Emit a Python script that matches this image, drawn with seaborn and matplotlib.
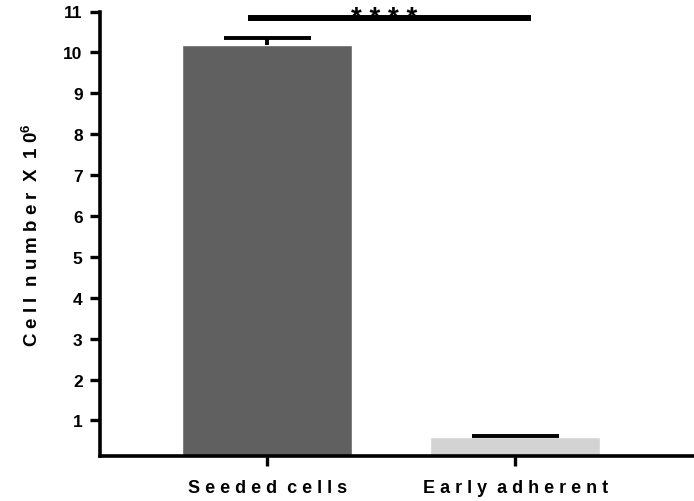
import matplotlib
matplotlib.use("Agg")
import matplotlib.pyplot as plt
import seaborn as sns
import pandas as pd

categories = ["Seeded cells", "Early adherent"]
tick_labels = ["S e e d e d  c e l l s", "E a r l y  a d h e r e n t"]
means = [10.17, 0.60]
errors = [0.17, 0.03]
colors = ["#606060", "#d3d3d3"]
yticks = [1, 2, 3, 4, 5, 6, 7, 8, 9, 10, 11]
sig_text = "* * * *"
sig_y = 10.85

sns.set_theme(style="ticks")
plt.rcParams["font.family"] = ["Liberation Sans", "DejaVu Sans"]
plt.rcParams["font.weight"] = "bold"
plt.rcParams["text.color"] = "black"
plt.rcParams["axes.labelcolor"] = "black"
plt.rcParams["mathtext.fontset"] = "custom"
plt.rcParams["mathtext.rm"] = "Liberation Sans:bold"
plt.rcParams["mathtext.it"] = "Liberation Sans:bold"
plt.rcParams["mathtext.bf"] = "Liberation Sans:bold"

df = pd.DataFrame({"group": categories, "value": means})

fig = plt.figure(figsize=(6.94, 5.02), dpi=100)
ax = fig.add_axes([100 / 694, (502 - 457) / 502, 1 - 100 / 694, (457 - 12.5) / 502])

sns.barplot(data=df, x="group", y="value", hue="group", palette=colors,
            order=categories, hue_order=categories, width=0.685,
            errorbar=None, legend=False, ax=ax, saturation=1)

xs = list(range(len(categories)))
tops = [m + e for m, e in zip(means, errors)]
ax.vlines(xs, means, tops, color="black", linewidth=2.8, zorder=3)
ax.hlines(tops, [x - 0.175 for x in xs], [x + 0.175 for x in xs],
          color="black", linewidth=2.8, zorder=3)

ax.set_xlim(-0.675, 1.72)
ax.set_ylim(0.13, 11.0)
ax.set_yticks(yticks)
ax.set_yticklabels([str(t) for t in yticks], fontsize=12.5, fontweight="bold",
                   color="black")
ax.set_xticks(xs)
ax.set_xticklabels(tick_labels, fontsize=13, fontweight="bold", color="black")
ax.set_xlabel("")
ax.set_ylabel("C e l l  n u m b e r  X  1 0$^{6}$", fontsize=13.5,
              fontweight="bold", color="black")
ax.yaxis.set_label_coords(-0.097, 0.5)

for s in ["top", "right"]:
    ax.spines[s].set_visible(False)
for s in ["left", "bottom"]:
    ax.spines[s].set_linewidth(2.6)
    ax.spines[s].set_color("black")
ax.tick_params(axis="both", which="major", length=7.5, width=2.4, color="black",
               labelcolor="black", pad=5)
ax.tick_params(axis="x", pad=9)

# significance bar
ax.plot([-0.078, 1.063], [sig_y, sig_y], color="black", linewidth=4.3,
        solid_capstyle="butt", clip_on=False)
ax.text(0.47, 10.68, sig_text, ha="center", va="baseline", color="black",
        fontsize=20, fontweight="bold", clip_on=False)

fig.savefig("out.png", dpi=100)
